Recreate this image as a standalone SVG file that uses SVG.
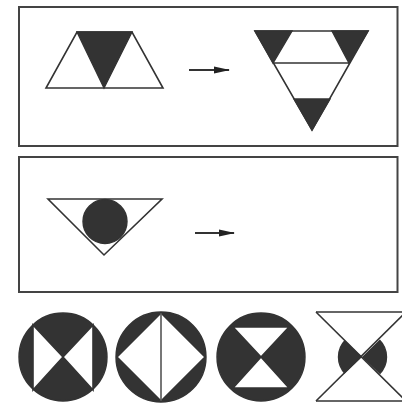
<svg xmlns="http://www.w3.org/2000/svg" width="402" height="405" viewBox="0 0 402 405">
<style>
.box{fill:#fff;stroke:#444;stroke-width:2}
.w{fill:#fff;stroke:#333;stroke-width:1.6;stroke-linejoin:miter}
.d{fill:#333;stroke:#333;stroke-width:1.4}
.ln{stroke:#333;stroke-width:1.6;fill:none}
.conn{stroke:#333;stroke-width:2;fill:none}
</style>
<defs>
<marker id="ah" markerWidth="16" markerHeight="8" refX="15" refY="4" orient="auto" markerUnits="userSpaceOnUse">
<path d="M0,0.5 L16,4 L0,7.5 Z" fill="#222"/>
</marker>
</defs>
<rect width="402" height="405" fill="#fff"/>
<g id="panel1"><rect class="box" x="19" y="7" width="378.5" height="139"/></g>
<g id="panel2"><rect class="box" x="19" y="157" width="378.5" height="135"/></g>
<g id="trapezoid">
<polygon class="w" points="77,32 132,32 163,88 46,88"/>
<polygon class="d" points="77,32 132,32 104,88"/>
</g>
<g id="inverted-triangle">
<polygon class="w" points="255,31 368,31 312,130"/>
<polygon class="d" points="255,31 292,31 273,63"/>
<polygon class="d" points="332,31 368,31 349,63"/>
<line class="ln" x1="273" y1="63" x2="349" y2="63"/>
<polygon class="d" points="294,99 330,99 312,130"/>
</g>
<g id="triangle-circle">
<polygon class="w" points="48,199 162,199 104,255"/>
<circle class="d" cx="105" cy="221.5" r="22"/>
</g>
<g id="connectors">
<line class="conn" x1="189" y1="70" x2="229" y2="70" marker-end="url(#ah)"/>
<line class="conn" x1="195" y1="233" x2="234" y2="233" marker-end="url(#ah)"/>
</g>
<g id="circle1">
<circle class="d" cx="63" cy="357" r="44"/>
<polygon class="w" points="33,325 33,390 63,357"/>
<polygon class="w" points="93,325 93,390 63,357"/>
</g>
<g id="circle2">
<circle class="d" cx="161" cy="357" r="45"/>
<polygon class="w" points="117,357 161,313 205,357 161,401"/>
<line x1="161" y1="313" x2="161" y2="401" stroke="#555" stroke-width="1.6"/>
</g>
<g id="circle3">
<circle class="d" cx="261" cy="357" r="44"/>
<polygon class="w" points="233,327 289,327 261,357"/>
<polygon class="w" points="233,388 289,388 261,357"/>
</g>
<g id="hourglass">
<circle class="d" cx="362.5" cy="357" r="24"/>
<polygon fill="#fff" points="316,312 408,312 362,357"/>
<polygon fill="#fff" points="316,401 408,401 362,357"/>
<line class="ln" x1="316" y1="312" x2="402" y2="312"/>
<line class="ln" x1="316" y1="401" x2="402" y2="401"/>
<line class="ln" x1="316" y1="312" x2="407" y2="402"/>
<line class="ln" x1="316" y1="401" x2="407" y2="311"/>
</g>
</svg>
